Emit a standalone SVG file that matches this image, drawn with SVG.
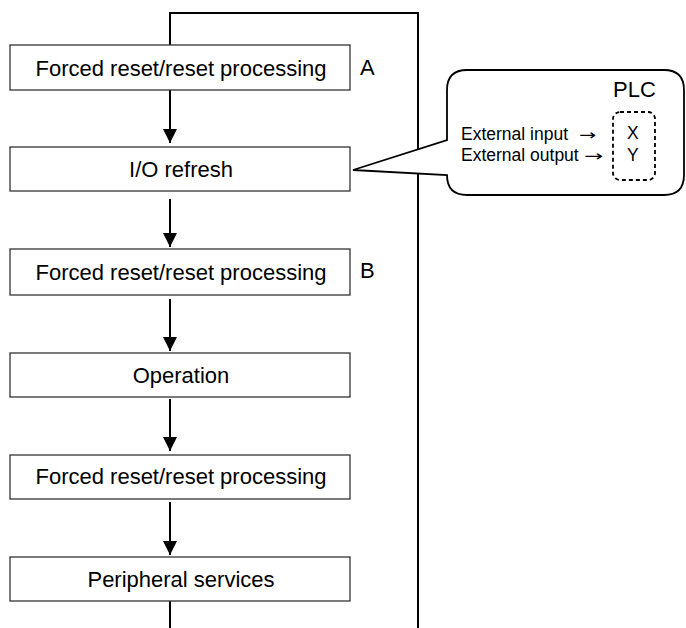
<svg xmlns="http://www.w3.org/2000/svg" width="686" height="628" viewBox="0 0 686 628">
<defs>
<style>
.box{fill:#fff;stroke:#333;stroke-width:1.3}
.t{font-family:"Liberation Sans",Arial,sans-serif;font-size:22px;fill:#000}
.s{font-family:"Liberation Sans",Arial,sans-serif;font-size:17.5px;fill:#000}
.ar{font-family:"DejaVu Sans",sans-serif;font-size:15px}
.ln{stroke:#000;stroke-width:2;fill:none}
</style>
<marker id="ah" markerWidth="14" markerHeight="16" refX="14" refY="7" orient="auto" markerUnits="userSpaceOnUse" viewBox="0 0 14 14">
<path d="M0,0 L14,7 L0,14 Z" fill="#000"/>
</marker>
</defs>
<g id="connectors">
<polyline class="ln" points="170,45 170,13 418,13 418,628"/>
<line class="ln" x1="170" y1="90" x2="170" y2="143" marker-end="url(#ah)"/>
<line class="ln" x1="170" y1="199" x2="170" y2="247" marker-end="url(#ah)"/>
<line class="ln" x1="170" y1="299" x2="170" y2="351" marker-end="url(#ah)"/>
<line class="ln" x1="170" y1="399" x2="170" y2="451" marker-end="url(#ah)"/>
<line class="ln" x1="170" y1="502" x2="170" y2="555" marker-end="url(#ah)"/>
<line class="ln" x1="170" y1="601" x2="170" y2="628"/>
</g>
<g id="n1"><rect class="box" x="10" y="45" width="340" height="45"/><text class="t" x="181" y="76" text-anchor="middle">Forced reset/reset processing</text></g>
<g id="labelA"><text class="t" x="360" y="75">A</text></g>
<g id="n2"><rect class="box" x="10" y="147" width="340" height="44"/><text class="t" x="181" y="177" text-anchor="middle">I/O refresh</text></g>
<g id="n3"><rect class="box" x="10" y="249" width="340" height="46"/><text class="t" x="181" y="280" text-anchor="middle">Forced reset/reset processing</text></g>
<g id="labelB"><text class="t" x="360" y="278">B</text></g>
<g id="n4"><rect class="box" x="10" y="353" width="340" height="44"/><text class="t" x="181" y="383" text-anchor="middle">Operation</text></g>
<g id="n5"><rect class="box" x="10" y="455" width="340" height="44"/><text class="t" x="181" y="484" text-anchor="middle">Forced reset/reset processing</text></g>
<g id="n6"><rect class="box" x="10" y="557" width="340" height="44"/><text class="t" x="181" y="587" text-anchor="middle">Peripheral services</text></g>
<g id="callout">
<path d="M467,70 L664,70 Q684,70 684,90 L684,175 Q684,195 664,195 L467,195 Q447,195 447,175 L353,170 L447,140 L447,90 Q447,70 467,70 Z" fill="#fff" stroke="#000" stroke-width="1.8"/>
<text class="t" x="613" y="97" font-size="21">PLC</text>
<rect x="613" y="112" width="42" height="68" rx="7" fill="none" stroke="#000" stroke-width="1.8" stroke-dasharray="4,3"/>
<text class="s" x="461" y="139.5">External input<tspan class="ar" x="579" textLength="17" lengthAdjust="spacingAndGlyphs">→</tspan></text>
<text class="s" x="461" y="160.5">External output<tspan class="ar" x="584" textLength="19" lengthAdjust="spacingAndGlyphs">→</tspan></text>
<text class="s" x="627" y="139">X</text>
<text class="s" x="627" y="161">Y</text>
</g>
</svg>
